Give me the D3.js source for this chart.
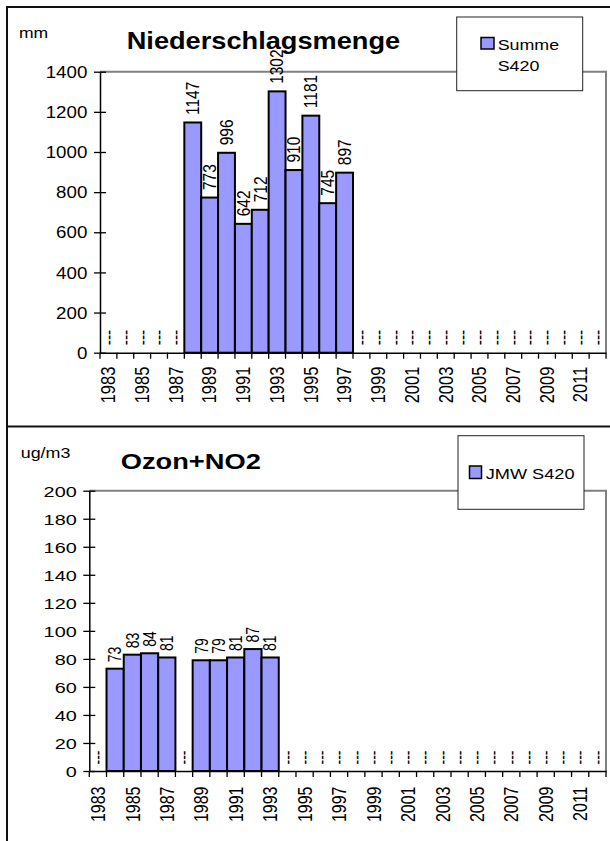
<!DOCTYPE html>
<html>
<head>
<meta charset="utf-8">
<script src="https://cdn.jsdelivr.net/npm/d3@7"></script>
<style>
  body { margin: 0; background: #fff; }
  svg { display: block; }
  text { font-family: "Liberation Sans", Arial, sans-serif; fill: #000; }
</style>
</head>
<body>
<svg width="610" height="841"></svg>
<script>
// Jahre (Kategorien) und Werte, null = kein Messwert ("---")
const years = ["1983", "1984", "1985", "1986", "1987", "1988", "1989", "1990", "1991", "1992",
               "1993", "1994", "1995", "1996", "1997", "1998", "1999", "2000", "2001", "2002",
               "2003", "2004", "2005", "2006", "2007", "2008", "2009", "2010", "2011", "2012"];

const niederschlag = [null, null, null, null, null, 1147, 773, 996, 642, 712,
                      1302, 910, 1181, 745, 897, null, null, null, null, null,
                      null, null, null, null, null, null, null, null, null, null];

const ozon = [null, 73, 83, 84, 81, null, 79, 79, 81, 87,
              81, null, null, null, null, null, null, null, null, null,
              null, null, null, null, null, null, null, null, null, null];

const niederTicks = [0, 200, 400, 600, 800, 1000, 1200, 1400];
const ozonTicks = [0, 20, 40, 60, 80, 100, 120, 140, 160, 180, 200];

const svg = d3.select("svg");
const barColor = "#9999ff";

// Text horizontal gestreckt wie im Original (Excel-Grafik war breitgezogen)
function place(sel, x, y, sx, rot) {
    sel.attr("transform", `translate(${x},${y}) scale(${sx},1)` + (rot ? ` rotate(${rot})` : ""));
}

const panels = [
    {
        values: niederschlag, ticks: niederTicks, max: 1400,
        left: 100, right: 606, top: 71.7, bottom: 352.7, sx: 1.17,
        title: "Niederschlagsmenge", titleX: 126.7, titleY: 49.3, titleSize: 24.5, titleSx: 1.11,
        unit: "mm", unitX: 19, unitY: 38, unitSize: 15,
        tickFont: 16, tickGap: 12.7, yearFont: 16.5, yearGap: 14,
        labelFont: 15.5, labelGap: 7.5,
        legend: {x: 456.7, y: 17, w: 126, h: 73.7, sx: 1.15,
                 sw: {x: 481, y: 37.5, w: 13, h: 11.5},
                 lines: ["Summe", "S420"], tx: 497.7, ty: [50, 71], size: 15.5}
    },
    {
        values: ozon, ticks: ozonTicks, max: 200,
        left: 89.3, right: 606, top: 490.7, bottom: 771, sx: 1.28,
        title: "Ozon+NO2", titleX: 120.7, titleY: 469, titleSize: 22, titleSx: 1.24,
        unit: "ug/m3", unitX: 20.7, unitY: 457.5, unitSize: 14,
        tickFont: 15.5, tickGap: 12.6, yearFont: 16, yearGap: 15.5,
        labelFont: 14, labelGap: 6.5,
        legend: {x: 458, y: 435.7, w: 126, h: 73.6, sx: 1.28,
                 sw: {x: 469.5, y: 466, w: 12, h: 12.5},
                 lines: ["JMW S420"], tx: 485.7, ty: [479], size: 14.2}
    }
];

// äußerer Rahmen und Trennlinie
svg.append("rect")
    .attr("x", 7).attr("y", 7).attr("width", 700).attr("height", 1000)
    .attr("fill", "none").attr("stroke", "#111").attr("stroke-width", 2);
svg.append("line")
    .attr("x1", 7).attr("x2", 610).attr("y1", 426.5).attr("y2", 426.5)
    .attr("stroke", "#111").attr("stroke-width", 2);

function drawPanel(p) {
    const g = svg.append("g");
    const data = years.map((year, i) => ({year: year, value: p.values[i]}));

    const x = d3.scaleBand().domain(years).range([p.left, p.right]).padding(0);
    const y = d3.scaleLinear().domain([0, p.max]).range([p.bottom, p.top]);
    const bw = x.bandwidth();

    // grauer Rahmen oben und rechts
    g.append("path")
        .attr("d", `M${p.left},${p.top}H${p.right}V${p.bottom}`)
        .attr("fill", "none").attr("stroke", "#808080").attr("stroke-width", 2);

    // Balken
    g.selectAll("rect.bar")
        .data(data.filter(d => d.value !== null))
        .join("rect")
        .attr("class", "bar")
        .attr("x", d => x(d.year))
        .attr("y", d => y(d.value))
        .attr("width", bw)
        .attr("height", d => y(0) - y(d.value))
        .attr("fill", barColor)
        .attr("stroke", "#000")
        .attr("stroke-width", 2);

    // Y-Achse
    const yAxis = g.append("g")
        .attr("transform", `translate(${p.left},0)`)
        .call(d3.axisLeft(y).tickValues(p.ticks).tickFormat(d3.format("d"))
              .tickSize(6).tickSizeOuter(0));
    yAxis.select(".domain").attr("stroke", "#000").attr("stroke-width", 1.5);
    yAxis.selectAll(".tick line").attr("x1", 6).attr("stroke", "#000").attr("stroke-width", 1.3);
    yAxis.selectAll(".tick text")
        .attr("x", 0).attr("dy", "0.35em")
        .attr("font-size", p.tickFont)
        .attr("font-family", null)
        .attr("text-anchor", "end")
        .each(function() { place(d3.select(this), -p.tickGap, 0, p.sx); });

    // X-Achse (Striche an den Kategoriegrenzen)
    const xAxis = g.append("g")
        .attr("transform", `translate(0,${p.bottom})`)
        .call(d3.axisBottom(x).tickSizeInner(6).tickSizeOuter(0)
              .tickFormat((d, i) => i % 2 === 0 ? d : ""));
    xAxis.select(".domain").attr("stroke", "#000").attr("stroke-width", 1.5);
    xAxis.selectAll(".tick line")
        .attr("transform", `translate(${-bw / 2},0)`)
        .attr("stroke", "#000").attr("stroke-width", 1.3);
    xAxis.append("line")
        .attr("x1", p.right).attr("x2", p.right).attr("y1", 0).attr("y2", 6)
        .attr("stroke", "#000").attr("stroke-width", 1.3);
    xAxis.selectAll(".tick text")
        .attr("x", 0).attr("y", 0).attr("dy", "0.35em")
        .attr("font-size", p.yearFont)
        .attr("font-family", null)
        .attr("text-anchor", "end")
        .each(function() { place(d3.select(this), 0, p.yearGap, p.sx, -90); });

    // Datenbeschriftungen
    g.selectAll("text.lbl")
        .data(data)
        .join("text")
        .attr("class", "lbl")
        .attr("font-size", p.labelFont)
        .attr("dy", "0.35em")
        .attr("text-anchor", "start")
        .text(d => d.value === null ? "---" : d.value)
        .each(function(d) {
            place(d3.select(this), x(d.year) + bw / 2, y(d.value === null ? 0 : d.value) - p.labelGap, p.sx, -90);
        });

    // Titel und Einheit
    g.append("text")
        .attr("font-size", p.titleSize).attr("font-weight", "bold")
        .text(p.title)
        .call(place, p.titleX, p.titleY, p.titleSx);
    g.append("text")
        .attr("font-size", p.unitSize)
        .text(p.unit)
        .call(place, p.unitX, p.unitY, p.sx);

    // Legende
    const L = p.legend;
    g.append("rect")
        .attr("x", L.x).attr("y", L.y).attr("width", L.w).attr("height", L.h)
        .attr("fill", "#fff").attr("stroke", "#222").attr("stroke-width", 1);
    g.append("rect")
        .attr("x", L.sw.x).attr("y", L.sw.y).attr("width", L.sw.w).attr("height", L.sw.h)
        .attr("fill", barColor).attr("stroke", "#000").attr("stroke-width", 1.5);
    L.lines.forEach((line, i) => {
        g.append("text")
            .attr("font-size", L.size)
            .text(line)
            .call(place, L.tx, L.ty[i], L.sx);
    });
}

panels.forEach(drawPanel);
</script>
</body>
</html>
